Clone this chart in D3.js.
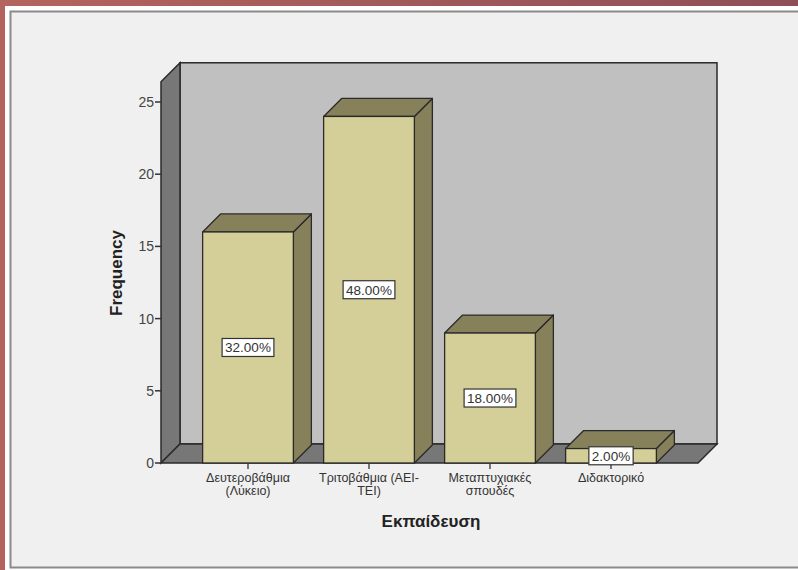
<!DOCTYPE html>
<html><head><meta charset="utf-8">
<script src="https://cdn.jsdelivr.net/npm/d3@7"></script>
<style>html,body{margin:0;padding:0;background:#fff;}svg{display:block;}</style>
</head><body>
<script>
const categories = ["Δευτεροβάθμια (Λύκειο)", "Τριτοβάθμια (ΑΕΙ-ΤΕΙ)", "Μεταπτυχιακές σπουδές", "Διδακτορικό"];
const categoryLines = [["Δευτεροβάθμια","(Λύκειο)"],["Τριτοβάθμια (ΑΕΙ-","ΤΕΙ)"],["Μεταπτυχιακές","σπουδές"],["Διδακτορικό"]];
const counts = [16, 24, 9, 1];
const percentLabels = ["32.00%", "48.00%", "18.00%", "2.00%"];
const yTicks = [0, 5, 10, 15, 20, 25];
const xTitle = "Εκπαίδευση";
const yTitle = "Frequency";

const W = 798, H = 570;
const FONT = "Liberation Sans, Arial, sans-serif";
const svg = d3.select("body").append("svg").attr("width", W).attr("height", H);
const defs = svg.append("defs");
const g = defs.append("linearGradient").attr("id","frame").attr("x1","0").attr("x2","1").attr("y1","0").attr("y2","0");
g.append("stop").attr("offset","0").attr("stop-color","#b4645e");
g.append("stop").attr("offset","1").attr("stop-color","#8f4f57");
svg.append("rect").attr("width",W).attr("height",H).attr("fill","url(#frame)");
svg.append("rect").attr("x",5).attr("y",6).attr("width",W).attr("height",H).attr("fill","#ffffff");
svg.append("rect").attr("x",10.5).attr("y",11.5).attr("width",W).attr("height",556).attr("fill","#f0f0f0").attr("stroke","#8a8a8a").attr("stroke-width",2);

// scales
const y = d3.scaleLinear().domain([0, 25]).range([463, 102]);
const x = d3.scaleBand().domain(categories).range([187.5, 671.5]);
const barW = x.bandwidth() * 0.75;
const D = 19; // depth offset
const left = 161, right = 698, yTop = y(26.4);
const line = d3.line();
const stroke = "#2a2a2a";

// back wall
svg.append("rect").attr("x", left + D).attr("y", yTop - D).attr("width", right - left).attr("height", y(0) - yTop)
  .attr("fill", "#c0c0c0").attr("stroke", stroke).attr("stroke-width", 1.5);
// left wall
svg.append("path").attr("d", line([[left, yTop],[left + D, yTop - D],[left + D, y(0) - D],[left, y(0)]]) + "Z")
  .attr("fill", "#777777").attr("stroke", stroke).attr("stroke-width", 1.5);
// floor
svg.append("path").attr("d", line([[left, y(0)],[left + D, y(0) - D],[right + D, y(0) - D],[right, y(0)]]) + "Z")
  .attr("fill", "#777777").attr("stroke", stroke).attr("stroke-width", 1.5);

// y axis ticks
const yAxis = svg.append("g");
yTicks.forEach(t => {
  yAxis.append("line").attr("x1", left - 6).attr("x2", left).attr("y1", y(t)).attr("y2", y(t)).attr("stroke", "#333").attr("stroke-width", 1.5);
  yAxis.append("text").attr("x", left - 7).attr("y", y(t) + 5).attr("text-anchor", "end")
    .attr("font-family", FONT).attr("font-size", 14).attr("fill", "#444").text(t);
});

// bars
const bd = 18;
categories.forEach((c, i) => {
  const cx = x(c) + x.bandwidth() / 2;
  const x0 = cx - barW / 2, x1 = cx + barW / 2;
  const yt = y(counts[i]), yb = y(0);
  const gb = svg.append("g");
  gb.append("path").attr("d", line([[x1, yt],[x1 + bd, yt - bd],[x1 + bd, yb - bd],[x1, yb]]) + "Z")
    .attr("fill", "#86815a").attr("stroke", stroke).attr("stroke-width", 1.3).attr("stroke-linejoin","round");
  gb.append("path").attr("d", line([[x0, yt],[x0 + bd, yt - bd],[x1 + bd, yt - bd],[x1, yt]]) + "Z")
    .attr("fill", "#86815a").attr("stroke", stroke).attr("stroke-width", 1.3).attr("stroke-linejoin","round");
  gb.append("rect").attr("x", x0).attr("y", yt).attr("width", barW).attr("height", yb - yt)
    .attr("fill", "#d4cf98").attr("stroke", stroke).attr("stroke-width", 1.3);
  svg.append("line").attr("x1", cx).attr("x2", cx).attr("y1", yb).attr("y2", yb + 6).attr("stroke", "#333").attr("stroke-width", 1.3);
  const tl = svg.append("text").attr("text-anchor", "middle").attr("font-family", FONT)
    .attr("font-size", 12.5).attr("fill", "#333");
  categoryLines[i].forEach((s, k) => tl.append("tspan").attr("x", cx).attr("y", 482 + k * 13).text(s));
  const my = (yt + yb) / 2;
  const lt = svg.append("text").attr("x", cx).attr("y", my + 5).attr("text-anchor", "middle")
    .attr("font-family", FONT).attr("font-size", 13.5).attr("fill", "#333").text(percentLabels[i]);
  const bb = lt.node().getBBox();
  svg.insert("rect", () => lt.node()).attr("x", bb.x - 3).attr("y", my - 9).attr("width", bb.width + 6).attr("height", 18)
    .attr("fill", "#ffffff").attr("stroke", "#333").attr("stroke-width", 1.2);
});

// axis titles
svg.append("text").attr("x", 431).attr("y", 527).attr("text-anchor", "middle")
  .attr("font-family", FONT).attr("font-size", 17).attr("font-weight", "bold").attr("fill", "#222").text(xTitle);
svg.append("text").attr("transform", "translate(122,273) rotate(-90)").attr("text-anchor", "middle")
  .attr("font-family", FONT).attr("font-size", 17).attr("font-weight", "bold").attr("fill", "#222").text(yTitle);
</script>
</body></html>
